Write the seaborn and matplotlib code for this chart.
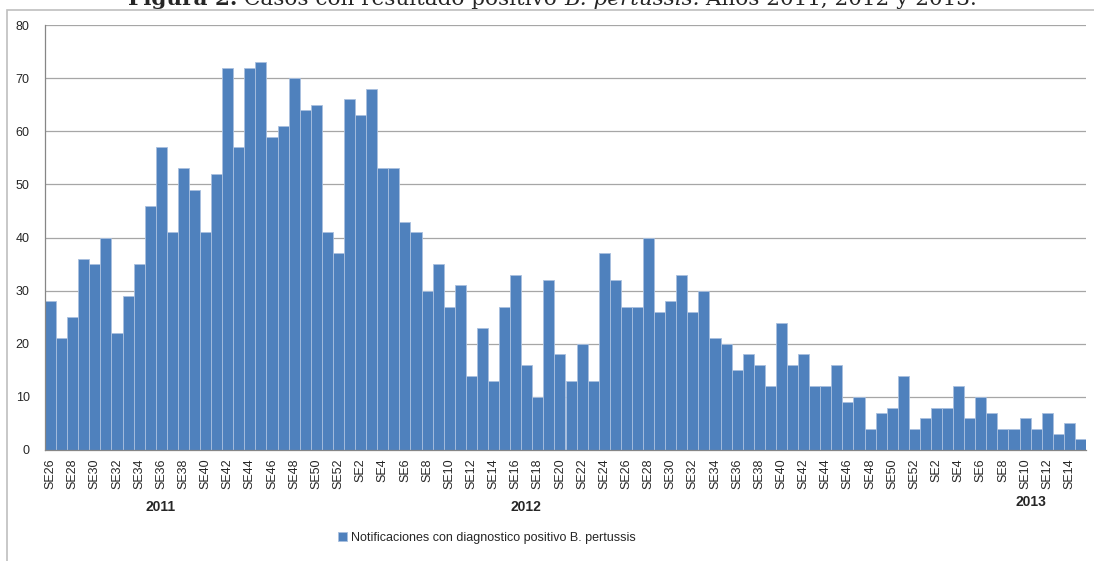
"""
plot.py — Casos con resultado positivo de B. pertussis por semana epidemiológica (2011-2013)
"""
import numpy as np
import pandas as pd
import seaborn as sns
import matplotlib.pyplot as plt
from matplotlib.patches import Rectangle

# Semanas epidemiológicas de cada año
semanas_2011 = [f"SE{i}" for i in range(26, 53)]
semanas_2012 = [f"SE{i}" for i in range(1, 53)]
semanas_2013 = [f"SE{i}" for i in range(1, 16)]

# Casos notificados por semana
casos_2011 = [28, 21, 25, 36, 35, 40, 22, 29, 35, 46, 57, 41, 53, 49, 41, 52, 72, 57,
              72, 73, 59, 61, 70, 64, 65, 41, 37]
casos_2012 = [66, 63, 68, 53, 53, 43, 41, 30, 35, 27, 31, 14, 23, 13, 27, 33, 16, 10,
              32, 18, 13, 20, 13, 37, 32, 27, 27, 40, 26, 28, 33, 26, 30, 21, 20, 15,
              18, 16, 12, 24, 16, 18, 12, 12, 16, 9, 10, 4, 7, 8, 14, 4]
casos_2013 = [6, 8, 8, 12, 6, 10, 7, 4, 4, 6, 4, 7, 3, 5, 2]

anios = ["2011", "2012", "2013"]
serie = "Notificaciones con diagnostico positivo B. pertussis"
color_barra = "#4F81BD"


def armar_tabla():
    filas = []
    for anio, semanas, casos in zip(anios, [semanas_2011, semanas_2012, semanas_2013],
                                    [casos_2011, casos_2012, casos_2013]):
        for se, c in zip(semanas, casos):
            filas.append({"anio": anio, "semana": se, "casos": c, "clave": f"{anio}-{se}"})
    return pd.DataFrame(filas)


def titulo(fig, partes, x0_px, x1_px, base_px, size=14):
    # Escribe el título por partes (negrita / normal / cursiva) y lo ajusta al ancho x0..x1
    renderer = fig.canvas.get_renderer()
    W, H = fig.get_size_inches() * fig.dpi

    def escribir(sz):
        x = x0_px / W
        textos = []
        for texto, peso, estilo in partes:
            t = fig.text(x, 1 - base_px / H, texto, fontsize=sz, fontweight=peso,
                         fontstyle=estilo, family="DejaVu Serif", va="baseline", ha="left")
            x += t.get_window_extent(renderer).width / W
            textos.append(t)
        return textos, x * W - x0_px

    textos, ancho = escribir(size)
    for t in textos:
        t.remove()
    escribir(size * (x1_px - x0_px) / ancho)


def main():
    df = armar_tabla()
    n = len(df)

    sns.set_style("white")
    plt.rcParams["font.family"] = ["Liberation Sans", "DejaVu Sans"]

    fig = plt.figure(figsize=(10.94, 5.61), dpi=100)
    ax = fig.add_axes([45 / 1094, 111 / 561, 1041 / 1094, 425 / 561])

    sns.barplot(data=df, x="clave", y="casos", color=color_barra, saturation=1,
                width=1.0, edgecolor="#a9c0df", linewidth=0.6, label=serie, ax=ax)

    # Ejes
    ax.set_xlim(-0.5, n - 0.5)
    ax.set_ylim(0, 80)
    ax.set_yticks(np.arange(0, 81, 10))
    ax.yaxis.grid(True, color="#a6a6a6", linewidth=0.9)
    ax.set_axisbelow(True)
    ax.set_xlabel("")
    ax.set_ylabel("")

    pos = np.arange(0, n, 2)
    ax.set_xticks(pos)
    ax.set_xticklabels(df["semana"].iloc[::2], rotation=90, fontsize=9)
    ax.set_xticks(np.arange(-0.5, n, 1), minor=True)
    ax.tick_params(axis="x", which="major", length=0, pad=6)
    ax.tick_params(axis="x", which="minor", length=5, color="#868686", width=0.8)
    ax.tick_params(axis="y", length=6, color="#868686", width=0.8, labelsize=9, pad=5)

    for lado in ["top", "right"]:
        ax.spines[lado].set_visible(False)
    for lado in ["left", "bottom"]:
        ax.spines[lado].set_color("#868686")
        ax.spines[lado].set_linewidth(0.9)

    # Etiquetas de año bajo el eje
    tr = ax.get_xaxis_transform()
    ax.text(9.9, -0.134, "2011", transform=tr, ha="center", va="center",
            fontsize=10, fontweight="bold")
    ax.text(42.9, -0.134, "2012", transform=tr, ha="center", va="center",
            fontsize=10, fontweight="bold")
    ax.text(88.5, -0.122, "2013", transform=tr, ha="center", va="center",
            fontsize=10, fontweight="bold")

    # Leyenda
    ax.legend(loc="center", bbox_to_anchor=(487 / 1094, 1 - 538 / 561),
              bbox_transform=fig.transFigure, frameon=False, fontsize=9,
              handlelength=0.75, handleheight=0.75, handletextpad=0.3)

    # Marco del área del gráfico
    fig.patches.append(Rectangle((7 / 1094, -0.05), 1.1, 1 - 10 / 561 + 0.05,
                                 transform=fig.transFigure, fill=False,
                                 edgecolor="#bfbfbf", linewidth=1.2))

    titulo(fig, [("Figura 2.", "bold", "normal"),
                 (" Casos con resultado positivo ", "normal", "normal"),
                 ("B. pertussis.", "normal", "italic"),
                 (" Años 2011, 2012 y 2013.", "normal", "normal")],
           x0_px=128, x1_px=977, base_px=5)

    fig.savefig("out.png", dpi=100)
    plt.close(fig)


if __name__ == "__main__":
    main()
